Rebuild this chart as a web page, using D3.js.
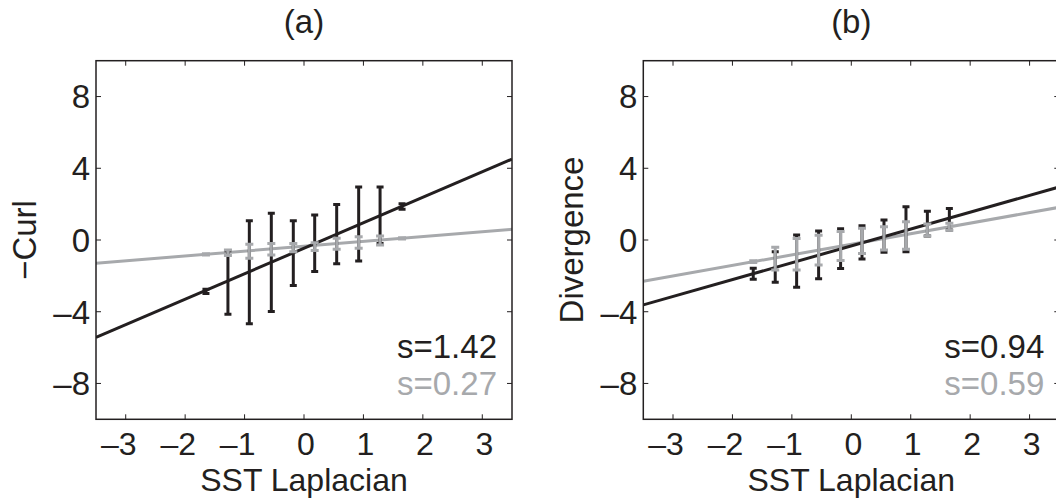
<!DOCTYPE html>
<html>
<head>
<meta charset="utf-8">
<script src="https://cdn.jsdelivr.net/npm/d3@7"></script>
<style>
  body { margin: 0; background: #fff; }
  svg { display: block; }
  text { font-family: "Liberation Sans", Arial, sans-serif; }
</style>
</head>
<body>
<div id="container"></div>
<script>
const width = 1056;
const height = 500;

// bin centres of SST Laplacian
const binX = [-1.65, -1.28, -0.92, -0.55, -0.18, 0.18, 0.55, 0.92, 1.28, 1.65];

// panel (a): -Curl
const curlBlackMean = [-2.87, -2.37, -1.80, -1.25, -0.73, -0.18, 0.33, 0.89, 1.38, 1.87];
const curlBlackErr = [0.12, 1.77, 2.87, 2.74, 1.81, 1.58, 1.65, 2.06, 1.57, 0.15];
const curlGrayMean = [-0.80, -0.71, -0.63, -0.51, -0.42, -0.37, -0.21, -0.14, -0.03, 0.09];
const curlGrayErr = [0.04, 0.15, 0.39, 0.32, 0.23, 0.22, 0.31, 0.32, 0.25, 0.04];

// panel (b): Divergence
const divBlackMean = [-1.88, -1.50, -1.18, -0.83, -0.48, -0.13, 0.21, 0.60, 0.91, 1.16];
const divBlackErr = [0.31, 0.85, 1.46, 1.33, 1.11, 0.93, 0.90, 1.25, 0.69, 0.60];
const divGrayMean = [-1.21, -1.04, -0.79, -0.56, -0.34, -0.05, 0.09, 0.25, 0.56, 0.74];
const divGrayErr = [0.05, 0.63, 0.88, 0.83, 0.81, 0.70, 0.65, 0.77, 0.33, 0.19];

// fitted slopes / intercepts
const curlFit = {black: [1.42, -0.46], gray: [0.27, -0.35]};
const divFit = {black: [0.94, -0.33], gray: [0.59, -0.24]};

const xTicks = [-3, -2, -1, 0, 1, 2, 3];
const yTicks = [-8, -4, 0, 4, 8];
const xDomain = [-3.5, 3.5];
const yDomain = [-10, 10];

const black = '#231f20';
const gray = '#a7a9ac';
const fs = 33;
const tickFs = 32;

const svg = d3.select('#container').append('svg')
  .attr('width', width)
  .attr('height', height);

const panels = [
  {left: 96, title: '(a)', ylabel: '\u2212Curl', ylabelX: 36, fit: curlFit,
   bm: curlBlackMean, be: curlBlackErr, gm: curlGrayMean, ge: curlGrayErr,
   legend: ['s=1.42', 's=0.27']},
  {left: 643.3, title: '(b)', ylabel: 'Divergence', ylabelX: 583, fit: divFit,
   bm: divBlackMean, be: divBlackErr, gm: divGrayMean, ge: divGrayErr,
   legend: ['s=0.94', 's=0.59']}
];

const pw = 416;
const plotTop = 60.7;
const plotBottom = 419.3;

panels.forEach(p => drawPanel(p));

function fmt(v) {
  return v < 0 ? '\u2013' + Math.abs(v) : String(v);
}

function drawPanel(p) {
  const x = d3.scaleLinear().domain(xDomain).range([p.left, p.left + pw]);
  const y = d3.scaleLinear().domain(yDomain).range([plotBottom, plotTop]);
  const g = svg.append('g');

  // clip so lines stay inside the box
  const clipId = 'clip' + p.title.replace(/\W/g, '');
  svg.append('clipPath').attr('id', clipId)
    .append('rect')
    .attr('x', p.left).attr('y', plotTop)
    .attr('width', pw).attr('height', plotBottom - plotTop);

  const plot = g.append('g').attr('clip-path', `url(#${clipId})`);

  // fit lines
  [['gray', gray], ['black', black]].forEach(([k, c]) => {
    const [s, b] = p.fit[k];
    plot.append('line')
      .attr('x1', x(xDomain[0])).attr('y1', y(s * xDomain[0] + b))
      .attr('x2', x(xDomain[1])).attr('y2', y(s * xDomain[1] + b))
      .attr('stroke', c)
      .attr('stroke-width', 3);
  });

  // error bars
  function bars(mean, err, c, capW) {
    const d = binX.map((v, i) => ({x: v, m: mean[i], e: err[i]}));
    const eb = plot.append('g').attr('stroke', c).attr('stroke-width', 3);
    eb.selectAll('.stem').data(d).join('line')
      .attr('x1', d => x(d.x)).attr('x2', d => x(d.x))
      .attr('y1', d => y(d.m - d.e)).attr('y2', d => y(d.m + d.e));
    eb.selectAll('.cap').data(d.flatMap(d => [d.m - d.e, d.m + d.e].map(v => ({x: d.x, v}))))
      .join('line')
      .attr('x1', d => x(d.x) - capW).attr('x2', d => x(d.x) + capW)
      .attr('y1', d => y(d.v)).attr('y2', d => y(d.v));
  }
  bars(p.bm, p.be, black, 3.5);
  bars(p.gm, p.ge, gray, 4);

  // box
  g.append('rect')
    .attr('x', p.left).attr('y', plotTop)
    .attr('width', pw).attr('height', plotBottom - plotTop)
    .attr('fill', 'none')
    .attr('stroke', black)
    .attr('stroke-width', 1.5);

  const tl = 5;
  const ticks = g.append('g').attr('stroke', black).attr('stroke-width', 1);
  xTicks.forEach(t => {
    ticks.append('line').attr('x1', x(t)).attr('x2', x(t)).attr('y1', plotBottom).attr('y2', plotBottom - tl);
    ticks.append('line').attr('x1', x(t)).attr('x2', x(t)).attr('y1', plotTop).attr('y2', plotTop + tl);
  });
  yTicks.forEach(t => {
    ticks.append('line').attr('x1', p.left).attr('x2', p.left + tl).attr('y1', y(t)).attr('y2', y(t));
    ticks.append('line').attr('x1', p.left + pw).attr('x2', p.left + pw - tl).attr('y1', y(t)).attr('y2', y(t));
  });

  // tick labels: digit centred on the tick, minus hangs left
  g.append('g').selectAll('text').data(xTicks).join('text')
    .attr('x', d => x(d) + tickFs * 0.278 + 2)
    .attr('y', 455)
    .attr('text-anchor', 'end')
    .attr('font-size', tickFs)
    .attr('fill', black)
    .text(d => fmt(d));

  g.append('g').selectAll('text').data(yTicks).join('text')
    .attr('x', p.left - 6)
    .attr('y', d => y(d))
    .attr('dy', '0.36em')
    .attr('text-anchor', 'end')
    .attr('font-size', fs)
    .attr('fill', black)
    .text(d => fmt(d));

  g.append('text')
    .attr('x', p.left + pw / 2)
    .attr('y', 33)
    .attr('text-anchor', 'middle')
    .attr('font-size', fs)
    .attr('fill', black)
    .text(p.title);

  g.append('text')
    .attr('x', p.left + pw / 2)
    .attr('y', 491)
    .attr('text-anchor', 'middle')
    .attr('font-size', tickFs)
    .attr('fill', black)
    .text('SST Laplacian');

  g.append('text')
    .attr('transform', `translate(${p.ylabelX},240) rotate(-90)`)
    .attr('text-anchor', 'middle')
    .attr('font-size', fs)
    .attr('fill', black)
    .text(p.ylabel);

  // slope legend
  const lx = p.left + pw - 15;
  g.append('text')
    .attr('x', lx).attr('y', 358)
    .attr('text-anchor', 'end')
    .attr('font-size', fs)
    .attr('fill', black)
    .text(p.legend[0]);
  g.append('text')
    .attr('x', lx).attr('y', 395)
    .attr('text-anchor', 'end')
    .attr('font-size', fs)
    .attr('fill', gray)
    .text(p.legend[1]);
}
</script>
</body>
</html>
